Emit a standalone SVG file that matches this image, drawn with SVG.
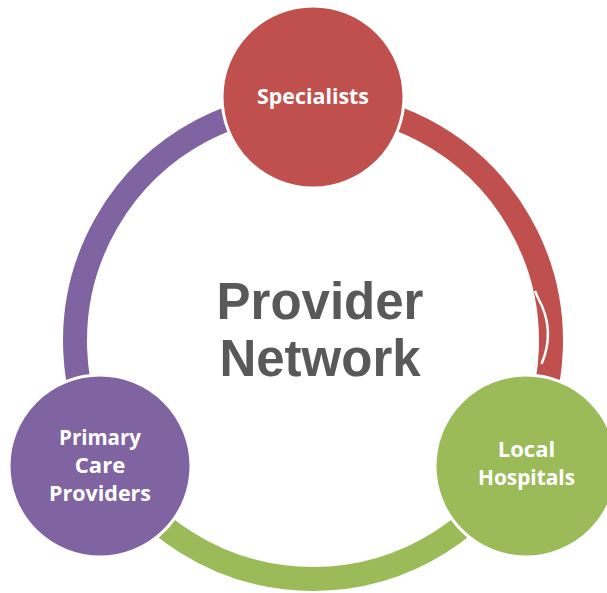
<svg xmlns="http://www.w3.org/2000/svg" width="607" height="593" viewBox="0 0 607 593">
  <style>
    .arc { fill: none; stroke-width: 24; }
    .node { stroke: #ffffff; stroke-width: 3; }
    .lbl { font-family: "Open Sans", "Liberation Sans", sans-serif; font-weight: 700; font-size: 22px; fill: #ffffff; text-anchor: middle; }
    .title { font-family: "Liberation Sans", Arial, sans-serif; font-weight: 700; font-size: 51px; fill: #595959; text-anchor: middle; }
  </style>
  <rect width="607" height="593" fill="#ffffff"/>
  <g id="connectors">
    <path class="arc" stroke="#C0504D" d="M313,103 A238,238 0 0 1 519.1,460"/>
    <path class="arc" stroke="#9BBB59" d="M519.1,460 A238,238 0 0 1 106.9,460"/>
    <path class="arc" stroke="#8064A2" d="M106.9,460 A238,238 0 0 1 313,103"/>
    <path d="M535,291 L538,298 Q556,330 541.5,364" fill="none" stroke="#ffffff" stroke-width="2.5"/>
  </g>
  <g id="center-label">
    <text class="title" x="320" y="319">Provider</text>
    <text class="title" x="320" y="376">Network</text>
  </g>
  <g id="specialists">
    <circle class="node" cx="313" cy="97" r="91" fill="#C0504D"/>
    <text class="lbl" x="313" y="104" textLength="112" lengthAdjust="spacingAndGlyphs">Specialists</text>
  </g>
  <g id="local-hospitals">
    <circle class="node" cx="526" cy="466" r="91" fill="#9BBB59"/>
    <text class="lbl" x="526.5" y="457">Local</text>
    <text class="lbl" x="526.5" y="485" textLength="97" lengthAdjust="spacingAndGlyphs">Hospitals</text>
  </g>
  <g id="primary-care">
    <circle class="node" cx="100" cy="466" r="91" fill="#8064A2"/>
    <text class="lbl" x="100" y="445" textLength="82" lengthAdjust="spacingAndGlyphs">Primary</text>
    <text class="lbl" x="100" y="473">Care</text>
    <text class="lbl" x="100" y="501" textLength="102" lengthAdjust="spacingAndGlyphs">Providers</text>
  </g>
</svg>
